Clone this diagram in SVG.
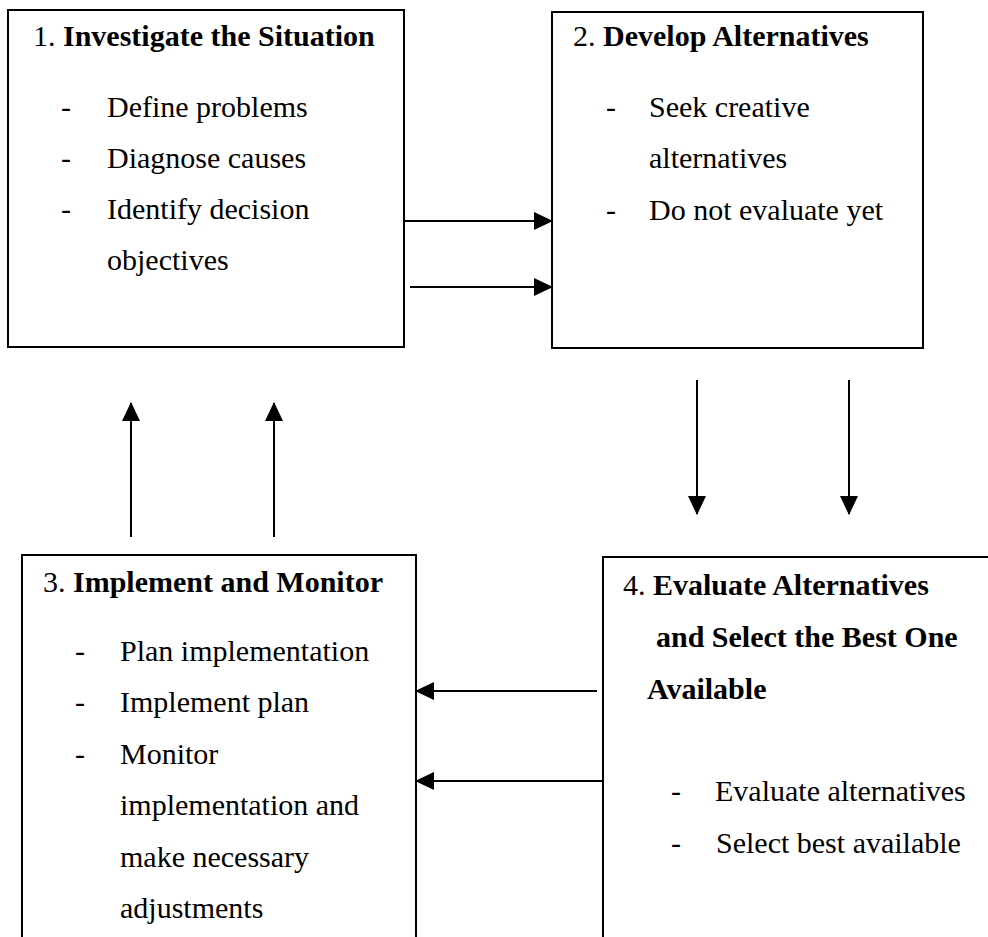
<svg xmlns="http://www.w3.org/2000/svg" width="988" height="937" viewBox="0 0 988 937">
<defs>
<style>
.box{fill:#fff;stroke:#000;stroke-width:2}
.t{font-family:"Liberation Serif","Times New Roman",serif;font-size:30px;fill:#000}
.b{font-weight:bold}
.c{stroke:#000;stroke-width:2;fill:none;marker-end:url(#ah)}
</style>
<marker id="ah" viewBox="0 0 19 18" refX="18" refY="9" markerWidth="19" markerHeight="18" markerUnits="userSpaceOnUse" orient="auto">
<path d="M0,0 L19,9 L0,18 z" fill="#000"/>
</marker>
</defs>
<rect width="988" height="937" fill="#fff"/>
<g id="node1">
<rect class="box" x="8" y="10" width="396" height="337"/>
<text class="t" x="33" y="46">1. <tspan class="b">Investigate the Situation</tspan></text>
<text class="t" x="61" y="117">-</text><text class="t" x="107" y="117">Define problems</text>
<text class="t" x="61" y="168">-</text><text class="t" x="107" y="168">Diagnose causes</text>
<text class="t" x="61" y="219">-</text><text class="t" x="107" y="219">Identify decision</text>
<text class="t" x="107" y="270">objectives</text>
</g>
<g id="node2">
<rect class="box" x="552" y="12" width="371" height="336"/>
<text class="t" x="573" y="46">2. <tspan class="b">Develop Alternatives</tspan></text>
<text class="t" x="606" y="117">-</text><text class="t" x="649" y="117">Seek creative</text>
<text class="t" x="649" y="168">alternatives</text>
<text class="t" x="606" y="220">-</text><text class="t" x="649" y="220">Do not evaluate yet</text>
</g>
<g id="node3">
<rect class="box" x="22" y="555" width="394" height="400"/>
<text class="t" x="43" y="592">3. <tspan class="b">Implement and Monitor</tspan></text>
<text class="t" x="75" y="661">-</text><text class="t" x="120" y="661">Plan implementation</text>
<text class="t" x="75" y="712">-</text><text class="t" x="120" y="712">Implement plan</text>
<text class="t" x="75" y="764">-</text><text class="t" x="120" y="764">Monitor</text>
<text class="t" x="120" y="815">implementation and</text>
<text class="t" x="120" y="867">make necessary</text>
<text class="t" x="120" y="918">adjustments</text>
</g>
<g id="node4">
<rect class="box" x="603" y="557" width="400" height="400"/>
<text class="t" x="623" y="595">4. <tspan class="b">Evaluate Alternatives</tspan></text>
<text class="t b" x="656" y="647">and Select the Best One</text>
<text class="t b" x="647" y="699">Available</text>
<text class="t" x="671" y="801">-</text><text class="t" x="715" y="801">Evaluate alternatives</text>
<text class="t" x="671" y="853">-</text><text class="t" x="716" y="853">Select best available</text>
</g>
<g id="connectors">
<line class="c" x1="404" y1="221" x2="552" y2="221"/>
<line class="c" x1="410" y1="287" x2="552" y2="287"/>
<line class="c" x1="697" y1="380" x2="697" y2="514"/>
<line class="c" x1="849" y1="380" x2="849" y2="514"/>
<line class="c" x1="131" y1="537" x2="131" y2="403"/>
<line class="c" x1="274" y1="537" x2="274" y2="403"/>
<line class="c" x1="597" y1="691" x2="416" y2="691"/>
<line class="c" x1="603" y1="781" x2="416" y2="781"/>
</g>
</svg>
